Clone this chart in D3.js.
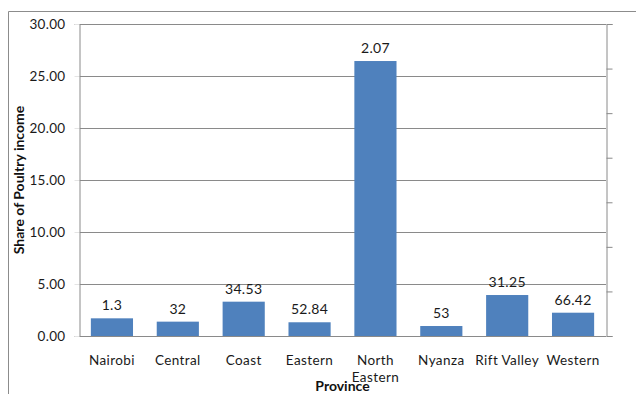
<!DOCTYPE html>
<html>
<head>
<meta charset="utf-8">
<script src="https://cdn.jsdelivr.net/npm/d3@7"></script>
<style>
  body { margin: 0; background: #fff; }
  svg text { font-family: Lato, "Liberation Sans", sans-serif; }
</style>
</head>
<body>
<div id="chart"></div>
<script>
// Data
const provinces = ["Nairobi", "Central", "Coast", "Eastern", "North Eastern", "Nyanza", "Rift Valley", "Western"];
const poultryShare = [1.70, 1.38, 3.30, 1.32, 26.44, 0.96, 3.94, 2.24];
const barLabels = ["1.3", "32", "34.53", "52.84", "2.07", "53", "31.25", "66.42"];
const yTicks = [0, 5, 10, 15, 20, 25, 30];
const rightTicks = [0, 1, 2, 3, 4, 5, 6, 7];

const W = 636, H = 394;
const margin = { top: 24, right: 30, bottom: 58, left: 79 };
const width = W - margin.left - margin.right;
const height = H - margin.top - margin.bottom;

const svg = d3.select("#chart").append("svg")
  .attr("width", W)
  .attr("height", H);

// outer chart border (runs off the right and bottom edges)
svg.append("path")
  .attr("d", `M8.5,${H} L8.5,11.5 L${W},11.5`)
  .attr("fill", "none")
  .attr("stroke", "#8c8c8c");

const g = svg.append("g")
  .attr("transform", `translate(${margin.left}, ${margin.top})`);

const x = d3.scaleBand()
  .domain(provinces)
  .range([0, width])
  .paddingInner(0.36)
  .paddingOuter(0.18);

const y = d3.scaleLinear()
  .domain([0, 30])
  .range([height, 0]);

const y2 = d3.scaleLinear()
  .domain([0, 7])
  .range([height, 0]);

// gridlines
g.selectAll(".grid")
  .data(yTicks)
  .enter()
  .append("line")
  .attr("x1", 0)
  .attr("x2", width)
  .attr("y1", d => Math.round(y(d)) + 0.5)
  .attr("y2", d => Math.round(y(d)) + 0.5)
  .attr("stroke", "#8a8a8a");

// left axis (faint ticks, labels)
const yAxis = d3.axisLeft(y)
  .tickValues(yTicks)
  .tickSize(5)
  .tickPadding(9)
  .tickFormat(d3.format(".2f"));

const ya = g.append("g")
  .attr("transform", "translate(0.5,0)")
  .call(yAxis);
ya.select(".domain").attr("stroke", "#8a8a8a");
ya.selectAll(".tick line").attr("stroke", "#e4e4e4");
ya.selectAll(".tick text")
  .attr("fill", "#1a1a1a")
  .style("font-size", "13.5px")
  .style("letter-spacing", "0.3px");

// right axis (ticks only)
const y2Axis = d3.axisRight(y2)
  .tickValues(rightTicks)
  .tickSize(6)
  .tickFormat("");

const ra = g.append("g")
  .attr("transform", `translate(${width + 0.5},0)`)
  .call(y2Axis);
ra.select(".domain").attr("stroke", "#8a8a8a");
ra.selectAll(".tick line").attr("stroke", "#8a8a8a");

// bars
g.selectAll(".bar")
  .data(provinces)
  .enter()
  .append("rect")
  .attr("class", "bar")
  .attr("x", d => x(d))
  .attr("width", x.bandwidth())
  .attr("y", (d, i) => y(poultryShare[i]))
  .attr("height", (d, i) => height - y(poultryShare[i]))
  .attr("fill", "#4f81bd");

// bar value labels
g.selectAll(".bar-label")
  .data(provinces)
  .enter()
  .append("text")
  .attr("x", d => x(d) + x.bandwidth() / 2)
  .attr("y", (d, i) => y(poultryShare[i]) - 8)
  .attr("text-anchor", "middle")
  .attr("fill", "#1a1a1a")
  .style("font-size", "14px")
  .style("letter-spacing", "0.3px")
  .text((d, i) => barLabels[i]);

// category labels (wrap on spaces for "North Eastern")
const xl = g.selectAll(".x-label")
  .data(provinces)
  .enter()
  .append("text")
  .attr("x", d => x(d) + x.bandwidth() / 2)
  .attr("y", height + 29)
  .attr("text-anchor", "middle")
  .attr("fill", "#1a1a1a")
  .style("font-size", "13.5px")
  .style("letter-spacing", "0.4px");

xl.each(function(d) {
  const words = d === "North Eastern" ? ["North", "Eastern"] : [d];
  const t = d3.select(this);
  words.forEach((w, i) => {
    t.append("tspan")
      .attr("x", x(d) + x.bandwidth() / 2)
      .attr("dy", i === 0 ? 0 : 17)
      .text(w);
  });
});

// axis titles
g.append("text")
  .attr("x", width / 2)
  .attr("y", height + 55)
  .attr("text-anchor", "middle")
  .attr("fill", "#111")
  .style("font-size", "14px")
  .style("font-weight", "bold")
  .text("Province");

g.append("text")
  .attr("text-anchor", "middle")
  .attr("transform", `translate(${24 - margin.left}, ${height / 2}) rotate(-90)`)
  .attr("fill", "#111")
  .style("font-size", "14px")
  .style("font-weight", "bold")
  .text("Share of Poultry income");
</script>
</body>
</html>
